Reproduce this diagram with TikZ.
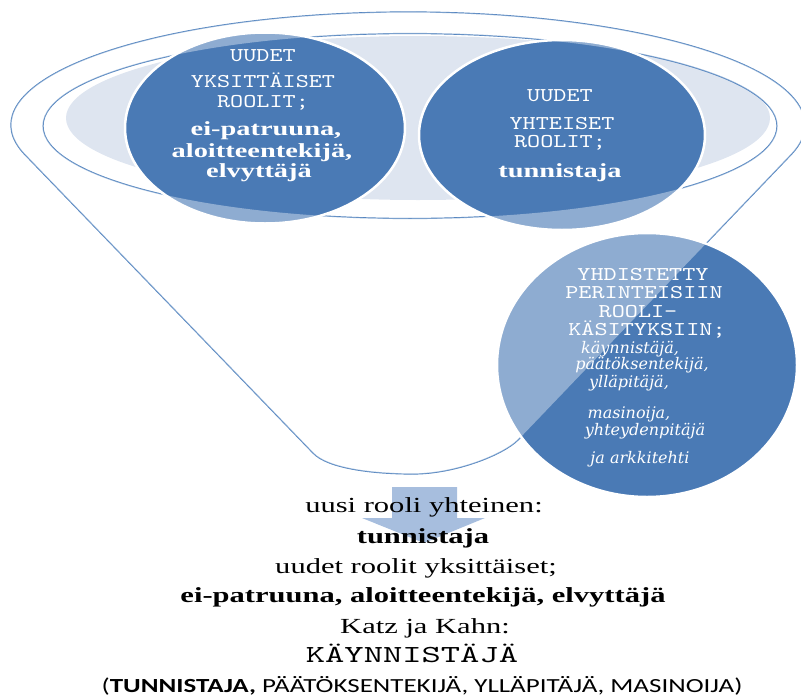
\documentclass[tikz,border=0pt]{standalone}
\usepackage{fontspec}
\usetikzlibrary{shapes.geometric}

% Type faces
\newfontfamily\capsfont[Extension=.otf, FakeStretch=1.28]{lmmono10-regular}
\newfontfamily\capswide[Extension=.otf, FakeStretch=1.5]{lmmono10-regular}
\newfontfamily\serifwide[FakeStretch=1.42]{Liberation Serif}
\newfontfamily\sanswide[FakeStretch=1.35]{Carlito}
\newfontfamily\slabit{DejaVu Serif}
\newcommand\fsz[1]{\fontsize{#1}{#1}\selectfont}

% Colours
\definecolor{rimline}{RGB}{79,129,189}
\definecolor{circdark}{RGB}{74,122,181}
\definecolor{rimfill}{RGB}{222,229,240}
\definecolor{arrowfill}{RGB}{167,190,222}

\begin{document}
\begin{tikzpicture}[x=1pt,y=-1pt,
  rimstroke/.style={draw=rimline, line width=1.2pt},
  bubble/.style={ellipse, fill=circdark, draw=white, line width=2.5pt, inner sep=0pt},
  lbl/.style={anchor=base, inner sep=0pt, outer sep=0pt},
  onblue/.style={lbl, text=white},
  capsline/.style={onblue, font=\capsfont\fsz{19.5}},
  boldline/.style={onblue, font=\serifwide\bfseries\fsz{20}},
  itline/.style={onblue, font=\slabit\itshape\fsz{16}},
  plainline/.style={lbl, font=\serifwide\fsz{21.5}},
  strongline/.style={lbl, font=\serifwide\bfseries\fsz{21.5}},
]
\useasboundingbox (0,0) rectangle (801,699);

% funnel key points
\coordinate (rimL) at (24.53,154.25);
\coordinate (neckL) at (313,453);
\coordinate (neckR) at (518,440);
\coordinate (neckB) at (413,474);

% pale fill inside the rim
\path[fill=rimfill] (418,118) ellipse [x radius=352, y radius=82];

% funnel outline (under the bubbles)
\path[rimstroke] (rimL) arc[start angle=165, end angle=375, x radius=397, y radius=113]
  -- (neckR) .. controls (503,455) and (455,474) .. (neckB)
  .. controls (375,474) and (328,469) .. (neckL) -- cycle;
\path[rimstroke] (410,126) ellipse [x radius=367, y radius=92.5];

% bubbles
\node[bubble, minimum width=280pt, minimum height=191pt] (solo) at (265,128) {};
\node[bubble, minimum width=286pt, minimum height=190pt] (shared) at (562,135) {};
\node[bubble, minimum width=300pt, minimum height=264pt] (merged) at (647,365) {};

% translucent funnel body over the bubbles, open inside the rim
\path[fill=white, fill opacity=.38, even odd rule]
  (rimL) arc[start angle=165, end angle=375, x radius=397, y radius=113]
  -- (neckR) .. controls (503,455) and (455,474) .. (neckB)
  .. controls (375,474) and (328,469) .. (neckL) -- cycle
  (410,126) ellipse [x radius=367, y radius=92.5];

% texts of the left bubble
\node[capsline] (s1) at (263,61) {UUDET};
\node[capsline] (s2) at (263,87) {YKSITTÄISET};
\node[capsline] (s3) at (263,107) {ROOLIT;};
\node[boldline] (s4) at (266,135) {ei-patruuna,};
\node[boldline] (s5) at (262,157) {aloitteentekijä,};
\node[boldline] (s6) at (259,177) {elvyttäjä};

% texts of the middle bubble
\node[capsline] (h1) at (560,101) {UUDET};
\node[capsline] (h2) at (562,129) {YHTEISET};
\node[capsline] (h3) at (560,147) {ROOLIT;};
\node[boldline] (h4) at (560,177) {tunnistaja};

% texts of the lower bubble
\node[capsline] (m1) at (643,280) {YHDISTETTY};
\node[capsline] (m2) at (644,298) {PERINTEISIIN};
\node[capsline] (m3) at (638,317) {ROOLI-};
\node[capsline] (m4) at (647,335) {KÄSITYKSIIN;};
\node[itline] (m5) at (630,353) {käynnistäjä,};
\node[itline] (m6) at (642,369) {päätöksentekijä,};
\node[itline] (m7) at (629,387) {ylläpitäjä,};
\node[itline] (m8) at (629,418) {masinoija,};
\node[itline] (m9) at (645,435) {yhteydenpitäjä};
\node[itline] (m10) at (640,463) {ja arkkitehti};

% block arrow out of the funnel neck
\path[fill=arrowfill] (392,487) -- (457,487) -- (457,518) -- (485,518)
  -- (424,543) -- (362,518) -- (392,518) -- cycle;

% summary below the funnel
\node[plainline] (t1) at (424,512) {uusi rooli yhteinen:};
\node[strongline] (t2) at (423,543) {tunnistaja};
\node[plainline] (t3) at (416,573) {uudet roolit yksittäiset;};
\node[strongline] (t4) at (423,602) {ei-patruuna, aloitteentekijä, elvyttäjä};
\node[plainline] (t5) at (425,633) {Katz ja Kahn:};
\node[lbl, font=\capswide\fsz{24.5}] (t6) at (412,662) {KÄYNNISTÄJÄ};
\node[lbl, font=\sanswide\fsz{20}] (t7) at (422,692) {(\textbf{TUNNISTAJA,} PÄÄTÖKSENTEKIJÄ, YLLÄPITÄJÄ, MASINOIJA)};
\end{tikzpicture}
\end{document}
